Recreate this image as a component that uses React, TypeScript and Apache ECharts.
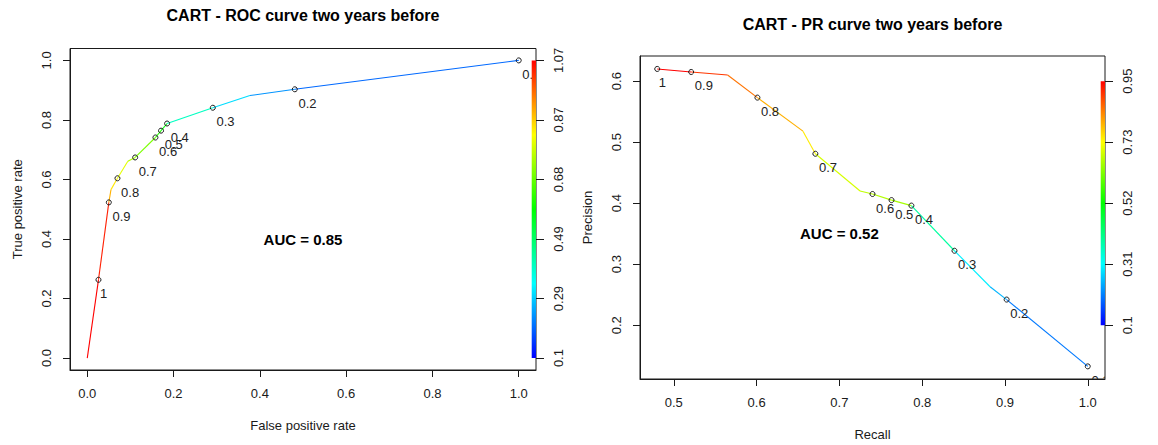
import React, { useEffect, useRef } from "react";
import * as echarts from "echarts";

// ---------- Data ----------
// ROC curve vertices: false positive rate, true positive rate, cutoff at each vertex
const rocFpr = [0, 0.026, 0.05, 0.055, 0.07, 0.094, 0.111, 0.158, 0.171, 0.185, 0.291, 0.377, 0.481, 1.0];
const rocTpr = [0, 0.263, 0.523, 0.566, 0.604, 0.661, 0.674, 0.741, 0.764, 0.788, 0.841, 0.882, 0.903, 1.0];
const rocCutoff = [1.068, 1.04, 0.9, 0.85, 0.8, 0.75, 0.7, 0.62, 0.58, 0.4, 0.31, 0.24, 0.2, 0.1];

// ROC labelled cutoff points
const rocPointFpr = [0.026, 0.05, 0.07, 0.111, 0.158, 0.171, 0.185, 0.291, 0.481, 1.0];
const rocPointTpr = [0.263, 0.523, 0.604, 0.674, 0.741, 0.764, 0.788, 0.841, 0.903, 1.0];
const rocPointLabels = ["1", "0.9", "0.8", "0.7", "0.6", "0.5", "0.4", "0.3", "0.2", "0.1"];

// PR curve vertices: recall, precision, cutoff
const prRecall = [0.48, 0.521, 0.565, 0.601, 0.656, 0.671, 0.725, 0.74, 0.763, 0.787, 0.839, 0.882, 0.902, 1.0];
const prPrecision = [0.62, 0.615, 0.61, 0.573, 0.518, 0.481, 0.42, 0.415, 0.405, 0.396, 0.322, 0.263, 0.242, 0.1325];
const prCutoff = [1.0, 0.9, 0.85, 0.8, 0.75, 0.7, 0.68, 0.67, 0.66, 0.39, 0.3, 0.25, 0.2, 0.1];

// PR labelled cutoff points
const prPointRecall = [0.48, 0.521, 0.601, 0.671, 0.74, 0.763, 0.787, 0.839, 0.902, 1.0];
const prPointPrecision = [0.62, 0.615, 0.573, 0.481, 0.415, 0.405, 0.396, 0.322, 0.242, 0.1325];
const prPointLabels = ["1", "0.9", "0.8", "0.7", "0.6", "0.5", "0.4", "0.3", "0.2", "0.1"];

// Axis ranges and tick values
const rocXRange = [-0.04, 1.04];
const rocYRange = [-0.04, 1.04];
const rocXTicks = [0, 0.2, 0.4, 0.6, 0.8, 1.0];
const rocYTicks = [0, 0.2, 0.4, 0.6, 0.8, 1.0];
const prXRange = [0.4592, 1.0208];
const prYRange = [0.1118, 0.6412];
const prXTicks = [0.5, 0.6, 0.7, 0.8, 0.9, 1.0];
const prYTicks = [0.2, 0.3, 0.4, 0.5, 0.6];

// Colour bar (cutoff) ticks, aligned with the y ticks of each panel
const rocColorbarTicks = [0.1, 0.2936, 0.4872, 0.6808, 0.8744, 1.068];
const prColorbarTicks = [0.1, 0.3114, 0.5228, 0.7342, 0.9456];

const rocTitle = "CART - ROC curve two years before";
const prTitle = "CART - PR curve two years before";
const rocAuc = { x: 0.5, y: 0.4, text: "AUC = 0.85" };
const prAuc = { x: 0.7, y: 0.35, text: "AUC = 0.52" };

// ---------- Helpers ----------
const FONT = "'Liberation Sans', Arial, Helvetica, sans-serif";
const INK = "#1a1a1a";

function hueToHex(h: number): string {
  const x = 1 - Math.abs(((h / 60) % 2) - 1);
  let r = 0, g = 0, b = 0;
  if (h < 60) { r = 1; g = x; b = 0; }
  else if (h < 120) { r = x; g = 1; b = 0; }
  else if (h < 180) { r = 0; g = 1; b = x; }
  else if (h < 240) { r = 0; g = x; b = 1; }
  else { r = 0; g = 0; b = 1; }
  const hx = (v: number) => Math.round(v * 255).toString(16).padStart(2, "0");
  return "#" + hx(r) + hx(g) + hx(b);
}

function cutoffColor(c: number, low: number, high: number): string {
  const t = Math.min(1, Math.max(0, (c - low) / (high - low)));
  return hueToHex(240 * (1 - t));
}

function textWidth(s: string, size: number): number {
  let w = 0;
  for (const ch of s) w += ch === "." ? 0.278 : 0.556;
  return w * size;
}

const rainbow = {
  type: "linear",
  x: 0, y: 0, x2: 0, y2: 1,
  colorStops: [
    { offset: 0, color: "#ff0000" },
    { offset: 0.25, color: "#ffff00" },
    { offset: 0.5, color: "#00ff00" },
    { offset: 0.75, color: "#00ffff" },
    { offset: 1, color: "#0000ff" },
  ],
};

function colorbarRange(yRange: number[], yTicks: number[], cbTicks: number[]) {
  const slope = (cbTicks[cbTicks.length - 1] - cbTicks[0]) / (yTicks[yTicks.length - 1] - yTicks[0]);
  return [cbTicks[0] + (yRange[0] - yTicks[0]) * slope, cbTicks[0] + (yRange[1] - yTicks[0]) * slope];
}

function xAxisDef(gridIndex: number, range: number[], ticks: number[], name: string) {
  return {
    type: "value", gridIndex, position: "bottom", min: range[0], max: range[1],
    axisLine: { show: true, onZero: false, lineStyle: { color: INK, width: 1 } },
    axisTick: { show: true, customValues: ticks, length: 7, lineStyle: { color: INK } },
    axisLabel: { show: true, customValues: ticks, margin: 17, fontSize: 13, color: INK, fontFamily: FONT,
      formatter: (v: number) => v.toFixed(1) },
    splitLine: { show: false },
    name, nameLocation: "middle", nameGap: 49,
    nameTextStyle: { fontSize: 13, color: INK, fontFamily: FONT },
  };
}

function yAxisDef(gridIndex: number, range: number[], ticks: number[], name: string) {
  return {
    type: "value", gridIndex, position: "left", min: range[0], max: range[1],
    axisLine: { show: true, onZero: false, lineStyle: { color: INK, width: 1 } },
    axisTick: { show: true, customValues: ticks, length: 7, lineStyle: { color: INK } },
    axisLabel: { show: true, customValues: ticks, margin: 17, rotate: 90, fontSize: 13, color: INK, fontFamily: FONT,
      formatter: (v: number) => v.toFixed(1) },
    splitLine: { show: false },
    name, nameLocation: "middle", nameGap: 46,
    nameTextStyle: { fontSize: 13, color: INK, fontFamily: FONT },
  };
}

function colorbarAxisDef(gridIndex: number, range: number[], ticks: number[]) {
  return {
    type: "value", gridIndex, position: "right", min: range[0], max: range[1],
    axisLine: { show: false, onZero: false },
    axisTick: { show: true, customValues: ticks, length: 8, lineStyle: { color: INK } },
    axisLabel: { show: true, customValues: ticks, margin: 16, rotate: 90, fontSize: 13, color: INK, fontFamily: FONT,
      formatter: (v: number) => String(Number(v.toFixed(2))) },
    splitLine: { show: false },
  };
}

function segmentSeries(xs: number[], ys: number[], cuts: number[], low: number, high: number, xi: number, yi: number) {
  const data: number[][] = [];
  for (let i = 0; i < xs.length - 1; i++) data.push([xs[i], ys[i], xs[i + 1], ys[i + 1], cuts[i]]);
  return {
    type: "custom", xAxisIndex: xi, yAxisIndex: yi, clip: true, z: 2,
    encode: { x: [0, 2], y: [1, 3] },
    data,
    renderItem: (_params: any, api: any) => {
      const p1 = api.coord([api.value(0), api.value(1)]);
      const p2 = api.coord([api.value(2), api.value(3)]);
      return {
        type: "line",
        shape: { x1: p1[0], y1: p1[1], x2: p2[0], y2: p2[1] },
        style: { stroke: cutoffColor(api.value(4), low, high), lineWidth: 1.1 },
      };
    },
  };
}

function pointSeries(xs: number[], ys: number[], labels: string[], xi: number, yi: number) {
  return {
    type: "custom", xAxisIndex: xi, yAxisIndex: yi, clip: true, z: 3,
    encode: { x: 0, y: 1 },
    data: xs.map((x, i) => [x, ys[i]]),
    renderItem: (params: any, api: any) => {
      const p = api.coord([api.value(0), api.value(1)]);
      const label = labels[params.dataIndex];
      const w = textWidth(label, 13);
      return {
        type: "group",
        children: [
          { type: "circle", shape: { cx: p[0], cy: p[1], r: 2.5 },
            style: { fill: "none", stroke: INK, lineWidth: 1 } },
          { type: "text", x: p[0] + 0.2 * w, y: p[1] + 14,
            style: { text: label, fill: "#222", fontSize: 13, fontFamily: FONT, align: "left", verticalAlign: "middle" } },
        ],
      };
    },
  };
}

function aucSeries(auc: { x: number; y: number; text: string }, xi: number, yi: number) {
  return {
    type: "custom", xAxisIndex: xi, yAxisIndex: yi, clip: false, z: 4,
    encode: { x: 0, y: 1 },
    data: [[auc.x, auc.y]],
    renderItem: (_params: any, api: any) => {
      const p = api.coord([api.value(0), api.value(1)]);
      return {
        type: "text", x: p[0], y: p[1],
        style: { text: auc.text, fill: "#000", fontSize: 15, fontWeight: "bold", fontFamily: FONT, align: "center", verticalAlign: "middle" },
      };
    },
  };
}

function colorbarSeries(xMax: number, low: number, high: number, xi: number, yi: number) {
  return {
    type: "custom", xAxisIndex: xi, yAxisIndex: yi, clip: false, z: 6,
    encode: { x: 0, y: [1, 2] },
    data: [[xMax, low, high]],
    renderItem: (_params: any, api: any) => {
      const top = api.coord([api.value(0), api.value(2)]);
      const bot = api.coord([api.value(0), api.value(1)]);
      return {
        type: "rect",
        shape: { x: top[0] - 4.3, y: top[1], width: 4.3, height: bot[1] - top[1] },
        style: { fill: rainbow },
      };
    },
  };
}

export default function App() {
  const ref = useRef<HTMLDivElement>(null);

  useEffect(() => {
    document.body.style.margin = "0";
    if (!ref.current) return;
    const chart = echarts.init(ref.current, undefined, { renderer: "svg" });

    const rocCb = colorbarRange(rocYRange, rocYTicks, rocColorbarTicks);
    const prCb = colorbarRange(prYRange, prYTicks, prColorbarTicks);
    const rocLow = rocColorbarTicks[0], rocHigh = rocColorbarTicks[rocColorbarTicks.length - 1];
    const prLow = prColorbarTicks[0], prHigh = prColorbarTicks[prColorbarTicks.length - 1];

    const titleStyle = { fontSize: 16, fontWeight: "bold", color: "#000", fontFamily: FONT };

    const option: any = {
      animation: false,
      backgroundColor: "#ffffff",
      textStyle: { fontFamily: FONT },
      title: [
        { text: rocTitle, left: 303, top: 7, padding: 0, textAlign: "center", textStyle: titleStyle },
        { text: prTitle, left: 872.5, top: 16, padding: 0, textAlign: "center", textStyle: titleStyle },
      ],
      grid: [
        { left: 70, top: 48.5, width: 466, height: 321.5, show: true, borderColor: INK, borderWidth: 1,
          backgroundColor: "transparent", containLabel: false, outerBoundsMode: "none" },
        { left: 640, top: 56, width: 465, height: 323, show: true, borderColor: INK, borderWidth: 1,
          backgroundColor: "transparent", containLabel: false, outerBoundsMode: "none" },
      ],
      xAxis: [
        xAxisDef(0, rocXRange, rocXTicks, "False positive rate"),
        xAxisDef(1, prXRange, prXTicks, "Recall"),
      ],
      yAxis: [
        yAxisDef(0, rocYRange, rocYTicks, "True positive rate"),
        colorbarAxisDef(0, rocCb, rocColorbarTicks),
        yAxisDef(1, prYRange, prYTicks, "Precision"),
        colorbarAxisDef(1, prCb, prColorbarTicks),
      ],
      series: [
        segmentSeries(rocFpr, rocTpr, rocCutoff, rocLow, rocHigh, 0, 0),
        pointSeries(rocPointFpr, rocPointTpr, rocPointLabels, 0, 0),
        aucSeries(rocAuc, 0, 0),
        colorbarSeries(rocXRange[1], rocLow, rocHigh, 0, 1),
        segmentSeries(prRecall, prPrecision, prCutoff, prLow, prHigh, 1, 2),
        pointSeries(prPointRecall, prPointPrecision, prPointLabels, 1, 2),
        aucSeries(prAuc, 1, 2),
        colorbarSeries(prXRange[1], prLow, prHigh, 1, 3),
      ],
    };

    chart.setOption(option);
    return () => {
      chart.dispose();
    };
  }, []);

  return <div ref={ref} style={{ width: 1158, height: 445 }} />;
}
